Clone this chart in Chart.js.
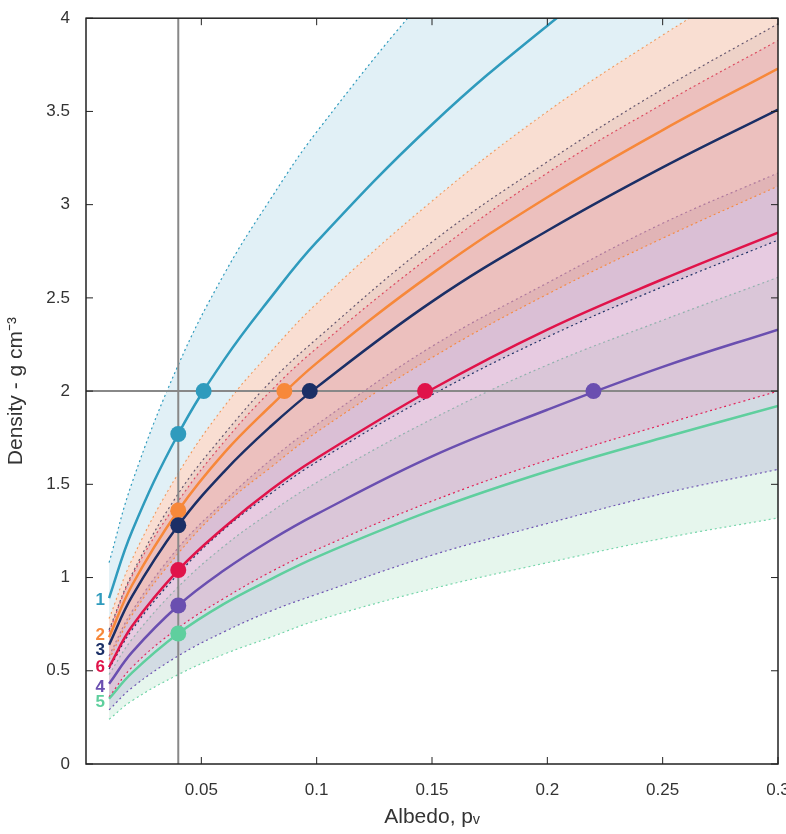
<!DOCTYPE html>
<html><head><meta charset="utf-8">
<script src="https://cdn.jsdelivr.net/npm/chart.js@4"></script>
<style>html,body{margin:0;padding:0;background:#fff}#w{width:786px;height:834px}</style>
</head><body><div id="w"><canvas id="c"></canvas></div>
<script>
const albedo = [0.01,0.02,0.04,0.06,0.08,0.1,0.15,0.2,0.25,0.3];
const c1 = [0.89,1.25,1.77,2.17,2.50,2.80,3.43,3.96,4.43,4.85];
const c2 = [0.68,0.96,1.36,1.67,1.92,2.15,2.63,3.04,3.40,3.73];
const c3 = [0.64,0.90,1.28,1.57,1.81,2.02,2.48,2.86,3.20,3.51];
const c6 = [0.52,0.74,1.04,1.27,1.47,1.64,2.01,2.33,2.60,2.85];
const c4 = [0.43,0.60,0.85,1.04,1.20,1.34,1.65,1.90,2.13,2.33];
const c5 = [0.35,0.49,0.70,0.86,0.99,1.11,1.36,1.57,1.75,1.92];
const up1 = [1.08,1.51,2.14,2.63,3.03,3.39,4.15,4.79,5.36,5.87];
const lo1 = [0.78,1.10,1.56,1.92,2.21,2.47,3.02,3.50,3.91,4.29];
const up2 = [0.78,1.10,1.56,1.92,2.21,2.47,3.02,3.50,3.91,4.29];
const lo2 = [0.56,0.80,1.13,1.39,1.59,1.78,2.18,2.52,2.82,3.10];
const up3 = [0.72,1.02,1.45,1.77,2.05,2.28,2.80,3.23,3.62,3.97];
const lo3 = [0.51,0.72,1.02,1.26,1.45,1.62,1.98,2.29,2.56,2.81];
const up6 = [0.71,1.01,1.41,1.73,2.00,2.23,2.73,3.17,3.54,3.88];
const lo6 = [0.36,0.52,0.73,0.89,1.03,1.15,1.41,1.63,1.82,2.00];
const up4 = [0.58,0.82,1.16,1.41,1.63,1.82,2.24,2.58,2.90,3.17];
const lo4 = [0.29,0.41,0.58,0.71,0.82,0.91,1.12,1.29,1.45,1.58];
const up5 = [0.48,0.67,0.95,1.17,1.35,1.51,1.85,2.14,2.38,2.61];
const lo5 = [0.24,0.34,0.48,0.59,0.68,0.77,0.94,1.08,1.21,1.32];
const markX04 = [0.04,0.04,0.04,0.04,0.04,0.04];
const markY04 = [1.77,1.36,1.28,1.04,0.85,0.70];
const markX2 = [0.051,0.086,0.097,0.147,0.22];
const markY2 = [2,2,2,2,2];
const labelText = ['1','2','3','6','4','5'];
const labelY = [0.88,0.69,0.61,0.52,0.41,0.33];
const colors = ['#2f9bbd','#f7883a','#1b2f66','#e0134a','#6a4fb0','#5fcf9e'];
const fills = ['rgba(205,230,240,0.6)','rgba(238,160,125,0.35)','rgba(120,110,130,0.12)','rgba(236,150,190,0.3)','rgba(150,140,200,0.25)','rgba(200,235,215,0.45)'];
const xTicks = [0.05,0.1,0.15,0.2,0.25,0.3];
const yTicks = [0,0.5,1,1.5,2,2.5,3,3.5,4];

const pts = a => albedo.map((x,i)=>({x,y:a[i]}));
const ds = [];
const bands = [[up1,lo1],[up2,lo2],[up3,lo3],[up6,lo6],[up4,lo4],[up5,lo5]];
bands.forEach((b,k)=>{
  ds.push({order:10+k,data:pts(b[0]),borderColor:colors[k],borderWidth:1.2,borderDash:[2,3],pointRadius:0,tension:0.4,fill:'+1',backgroundColor:fills[k]});
  ds.push({order:10+k,data:pts(b[1]),borderColor:k===0?'rgba(0,0,0,0)':colors[k],borderWidth:1.2,borderDash:[2,3],pointRadius:0,tension:0.4,fill:false});
});
ds.push({order:5,data:[{x:0,y:2},{x:0.3,y:2}],borderColor:'#888',borderWidth:2,pointRadius:0,fill:false});
ds.push({order:5,data:[{x:0.04,y:0},{x:0.04,y:4}],borderColor:'#888',borderWidth:2,pointRadius:0,fill:false});
[c1,c2,c3,c6,c4,c5].forEach((c,k)=>ds.push({order:2,data:pts(c),borderColor:colors[k],borderWidth:2.5,pointRadius:0,tension:0.4,fill:false}));
ds.push({order:0,type:'scatter',data:markX04.map((x,i)=>({x,y:markY04[i]})),pointRadius:8,pointBackgroundColor:colors,pointBorderWidth:0});
ds.push({order:0,type:'scatter',data:markX2.map((x,i)=>({x,y:markY2[i]})),pointRadius:8,pointBackgroundColor:colors.slice(0,5),pointBorderWidth:0});

const deco = {id:'deco',afterDatasetsDraw(ch){
  const {ctx,scales:{x,y},chartArea:a}=ch;
  ctx.save();
  ctx.font='bold 17px "Liberation Sans Narrow", "Liberation Sans", sans-serif';
  ctx.textAlign='center';ctx.textBaseline='middle';
  labelText.forEach((t,i)=>{ctx.fillStyle=colors[i];ctx.fillText(t,x.getPixelForValue(0.0062),y.getPixelForValue(labelY[i]));});
  ctx.strokeStyle='#222';ctx.lineWidth=1.5;
  ctx.strokeRect(a.left,a.top,a.right-a.left,a.bottom-a.top);
  ctx.lineWidth=1;
  xTicks.forEach(v=>{const p=x.getPixelForValue(v);ctx.beginPath();ctx.moveTo(p,a.bottom);ctx.lineTo(p,a.bottom-7);ctx.moveTo(p,a.top);ctx.lineTo(p,a.top+7);ctx.stroke();});
  yTicks.forEach(v=>{const p=y.getPixelForValue(v);ctx.beginPath();ctx.moveTo(a.left,p);ctx.lineTo(a.left+7,p);ctx.moveTo(a.right,p);ctx.lineTo(a.right-7,p);ctx.stroke();});
  ctx.restore();
}};
const tf = {family:'"Liberation Sans Narrow", "Liberation Sans", sans-serif',size:17};
new Chart(document.getElementById('c'),{
  type:'line',data:{datasets:ds},
  options:{responsive:true,maintainAspectRatio:false,animation:false,
    layout:{padding:{top:15,right:8,left:0,bottom:0}},
    plugins:{legend:{display:false},tooltip:{enabled:false}},
    scales:{
      x:{type:'linear',min:0,max:0.3,
        afterBuildTicks(s){s.ticks=xTicks.map(v=>({value:v}));},
        ticks:{color:'#333',font:tf,padding:8,callback:v=>String(v)},
        grid:{display:false},border:{display:false},
        title:{display:true,text:'Albedo, pᵥ',color:'#333',font:{family:tf.family,size:21}},
        afterFit(s){s.height=70;s.paddingRight=0;}},
      y:{type:'linear',min:0,max:4,
        afterBuildTicks(s){s.ticks=yTicks.map(v=>({value:v}));},
        ticks:{color:'#333',font:tf,padding:8,callback:v=>String(v)},
        grid:{display:false},border:{display:false},
        title:{display:true,text:'Density - g cm⁻³',color:'#333',font:{family:tf.family,size:21}},
        afterFit(s){s.width=86;}}
    }},
  plugins:[deco]
});
</script></body></html>
